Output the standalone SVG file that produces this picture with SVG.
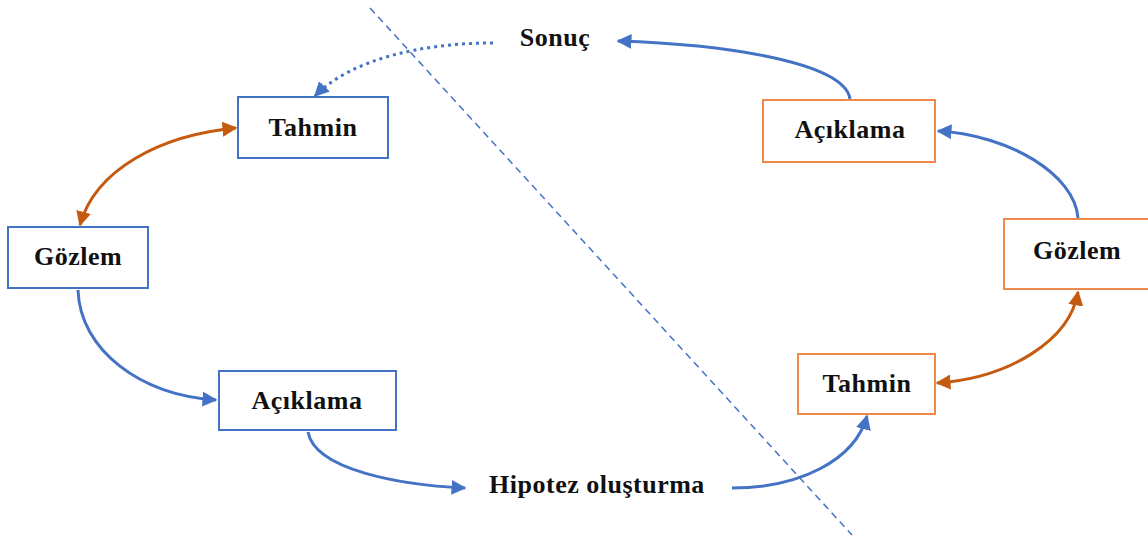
<svg xmlns="http://www.w3.org/2000/svg" width="1148" height="540" viewBox="0 0 1148 540">
<defs>
<marker id="ab" viewBox="0 0 10 10" refX="9" refY="5" markerWidth="5" markerHeight="5" orient="auto-start-reverse" markerUnits="strokeWidth"><path d="M0,0 L10,5 L0,10 z" fill="#4472C4"/></marker>
<marker id="ao" viewBox="0 0 10 10" refX="9" refY="5" markerWidth="5" markerHeight="5" orient="auto-start-reverse" markerUnits="strokeWidth"><path d="M0,0 L10,5 L0,10 z" fill="#C55A11"/></marker>
</defs>
<style>
.bb{fill:#fff;stroke:#4472C4;stroke-width:2}
.ob{fill:#fff;stroke:#F08A4B;stroke-width:2}
.t{font-family:'Liberation Serif','Times New Roman',serif;font-weight:bold;font-size:26px;letter-spacing:0.5px;fill:#111;text-anchor:middle;dominant-baseline:central}
.cb{fill:none;stroke:#4472C4;stroke-width:3}
.co{fill:none;stroke:#C55A11;stroke-width:3}
</style>
<rect width="1148" height="540" fill="#fff"/>
<line x1="370" y1="8" x2="852" y2="535" stroke="#4472C4" stroke-width="1.5" stroke-dasharray="7,5"/>
<g id="connectors">
<path class="cb" d="M493,43 C420,43 350,60 315,96" stroke-dasharray="3,4" marker-end="url(#ab)"/>
<path class="co" d="M236,128 C160,135 95,170 80,225" marker-start="url(#ao)" marker-end="url(#ao)"/>
<path class="cb" d="M78,290 C80,350 140,395 216,400" marker-end="url(#ab)"/>
<path class="cb" d="M308,432 C315,470 400,485 465,488" marker-end="url(#ab)"/>
<path class="cb" d="M732,488 C800,488 855,460 867,416" marker-end="url(#ab)"/>
<path class="co" d="M937,383 C1010,378 1070,340 1078,292" marker-start="url(#ao)" marker-end="url(#ao)"/>
<path class="cb" d="M1078,218 C1075,175 1010,135 938,131" marker-end="url(#ab)"/>
<path class="cb" d="M850,99 C845,65 740,45 618,41" marker-end="url(#ab)"/>
</g>
<g id="sonuc"><text class="t" x="555" y="37">Sonuç</text></g>
<g id="hipotez"><text class="t" x="597" y="484">Hipotez oluşturma</text></g>
<g id="tahmin-l"><rect class="bb" x="238" y="97" width="150" height="61"/><text class="t" x="313" y="127">Tahmin</text></g>
<g id="gozlem-l"><rect class="bb" x="8" y="227" width="140" height="61"/><text class="t" x="78" y="256">Gözlem</text></g>
<g id="aciklama-l"><rect class="bb" x="219" y="371" width="177" height="59"/><text class="t" x="307" y="400">Açıklama</text></g>
<g id="aciklama-r"><rect class="ob" x="763" y="100" width="172" height="62"/><text class="t" x="850" y="129">Açıklama</text></g>
<g id="gozlem-r"><rect class="ob" x="1004" y="219" width="150" height="70"/><text class="t" x="1077" y="250">Gözlem</text></g>
<g id="tahmin-r"><rect class="ob" x="798" y="354" width="137" height="60"/><text class="t" x="867" y="383">Tahmin</text></g>
</svg>
